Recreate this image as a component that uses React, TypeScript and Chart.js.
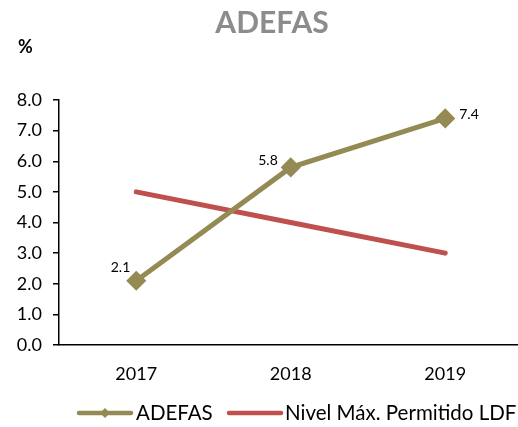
import React, { useEffect, useRef } from "react";
import { Chart, registerables } from "chart.js";

Chart.register(...registerables);

const categories = ["2017", "2018", "2019"];
const adefasValues = [2.1, 5.8, 7.4];
const limitValues = [5.0, 4.0, 3.0];
const seriesNames = ["ADEFAS", "Nivel Máx. Permitido LDF"];
const chartTitle = "ADEFAS";
const unitLabel = "%";

const OLIVE = "#948A54";
const RED = "#C0504D";
const FONT = "Lato, 'Open Sans', sans-serif";

const labelOffsets = [
  { dx: -6, dy: -13, align: "right" },
  { dx: -13, dy: -7, align: "right" },
  { dx: 14, dy: -4, align: "left" },
];

const overlayPlugin = {
  id: "overlay",
  afterDraw(chart: any) {
    const ctx = chart.ctx;
    ctx.save();
    // title
    ctx.fillStyle = "#8C8C8C";
    ctx.font = `bold 30px ${FONT}`;
    ctx.textAlign = "center";
    ctx.textBaseline = "middle";
    ctx.fillText(chartTitle, 272, 23);
    // unit
    ctx.fillStyle = "#000";
    ctx.font = `bold 18px ${FONT}`;
    ctx.textAlign = "left";
    ctx.fillText(unitLabel, 18, 47);

    // data labels for ADEFAS
    const meta = chart.getDatasetMeta(0);
    ctx.font = `14px ${FONT}`;
    ctx.fillStyle = "#000";
    meta.data.forEach((pt: any, i: number) => {
      const txt = adefasValues[i].toFixed(1);
      const o = labelOffsets[i];
      ctx.textAlign = o.align;
      ctx.fillText(txt, pt.x + o.dx, pt.y + o.dy);
    });

    // legend
    const ly = 413;
    ctx.lineCap = "round";
    ctx.lineWidth = 4.5;
    ctx.strokeStyle = OLIVE;
    ctx.beginPath();
    ctx.moveTo(79, ly);
    ctx.lineTo(131, ly);
    ctx.stroke();
    ctx.fillStyle = OLIVE;
    ctx.beginPath();
    ctx.moveTo(105, ly - 5);
    ctx.lineTo(110, ly);
    ctx.lineTo(105, ly + 5);
    ctx.lineTo(100, ly);
    ctx.closePath();
    ctx.fill();
    ctx.fillStyle = "#000";
    ctx.font = `20.5px ${FONT}`;
    ctx.textAlign = "left";
    ctx.textBaseline = "middle";
    ctx.fillText(seriesNames[0], 136, ly);

    ctx.strokeStyle = RED;
    ctx.beginPath();
    ctx.moveTo(229, ly);
    ctx.lineTo(281, ly);
    ctx.stroke();
    ctx.fillStyle = "#000";
    ctx.fillText(seriesNames[1], 285, ly);
    ctx.restore();
  },
};

export default function App() {
  const ref = useRef<HTMLCanvasElement>(null);
  useEffect(() => {
    if (!ref.current) return;
    const chart = new Chart(ref.current, {
      type: "line",
      data: {
        labels: categories,
        datasets: [
          {
            label: seriesNames[0],
            data: adefasValues,
            borderColor: OLIVE,
            backgroundColor: OLIVE,
            borderWidth: 5,
            pointStyle: "rectRot",
            pointRadius: 6.5,
            pointBackgroundColor: OLIVE,
            pointBorderColor: OLIVE,
            borderCapStyle: "round",
            tension: 0,
          },
          {
            label: seriesNames[1],
            data: limitValues,
            borderColor: RED,
            backgroundColor: RED,
            borderWidth: 5,
            pointRadius: 0,
            borderCapStyle: "round",
            tension: 0,
          },
        ],
      },
      options: {
        responsive: false,
        animation: false,
        layout: { padding: { top: 100, left: 0, right: 0, bottom: 0 } },
        plugins: {
          legend: { display: false },
          title: { display: false },
          tooltip: { enabled: false },
        },
        scales: {
          x: {
            offset: true,
            grid: { display: false, drawTicks: false },
            border: { color: "#000", width: 1.5 },
            ticks: {
              color: "#000",
              font: { family: FONT, size: 18 },
              padding: 18,
            },
            afterFit(scale: any) {
              scale.height = 82;
            },
          },
          y: {
            min: 0,
            max: 8,
            ticks: {
              stepSize: 1,
              color: "#000",
              font: { family: FONT, size: 18 },
              padding: 11,
              callback: (v: any) => Number(v).toFixed(1),
            },
            grid: {
              drawOnChartArea: false,
              tickLength: 6,
              color: "#000",
              lineWidth: 1.5,
            },
            border: { color: "#000", width: 1.5 },
            afterFit(scale: any) {
              scale.width = 59;
            },
          },
        },
      },
      plugins: [overlayPlugin],
    });
    return () => chart.destroy();
  }, []);
  return (
    <div
      style={{
        position: "absolute",
        left: 0,
        top: 0,
        width: 518,
        height: 427,
        overflow: "hidden",
        background: "#fff",
      }}
    >
      <canvas ref={ref} width={534} height={427} style={{ display: "block" }} />
    </div>
  );
}
